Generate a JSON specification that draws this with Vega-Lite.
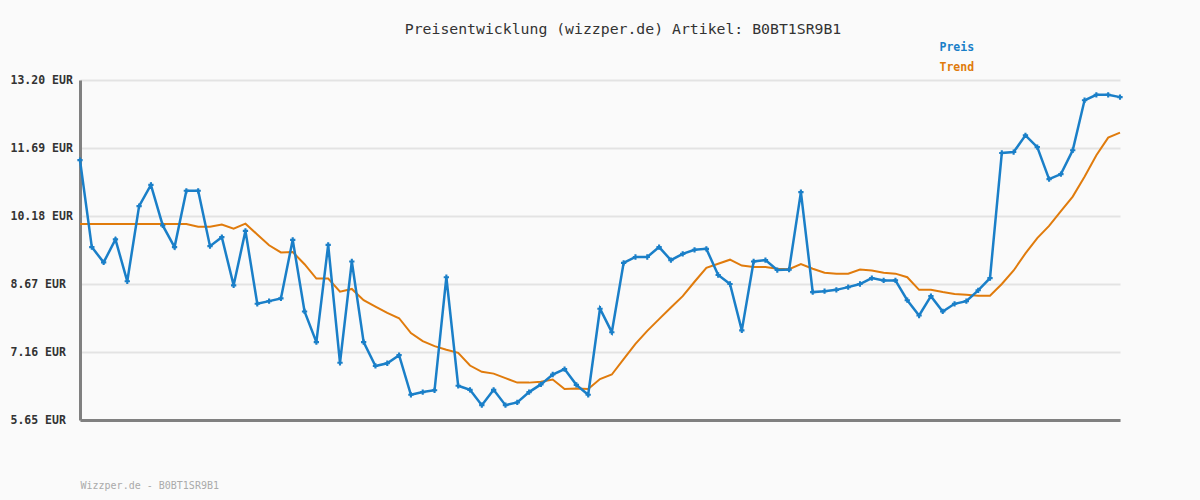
{
  "$schema": "https://vega.github.io/schema/vega-lite/v6.json",
  "width": 1040,
  "height": 340,
  "autosize": {"type": "none"},
  "padding": {"left": 80, "top": 80, "right": 80, "bottom": 80},
  "background": "#fafafa",
  "title": {
    "text": "Preisentwicklung (wizzper.de) Artikel: B0BT1SR9B1",
    "font": "DejaVu Sans Mono",
    "fontSize": 14.8,
    "fontWeight": "normal",
    "color": "#333333",
    "anchor": "middle",
    "dx": 23,
    "offset": 5
  },
  "config": {
    "view": {"stroke": null},
    "axis": {"labelFont": "DejaVu Sans Mono", "titleFont": "DejaVu Sans Mono"}
  },
  "data": {
    "values": [
      {"i":0,"Preis":11.42,"Trend":10.00},
      {"i":1,"Preis":9.49,"Trend":10.00},
      {"i":2,"Preis":9.15,"Trend":10.00},
      {"i":3,"Preis":9.66,"Trend":10.00},
      {"i":4,"Preis":8.73,"Trend":10.00},
      {"i":5,"Preis":10.40,"Trend":10.00},
      {"i":6,"Preis":10.87,"Trend":10.00},
      {"i":7,"Preis":9.97,"Trend":10.00},
      {"i":8,"Preis":9.49,"Trend":10.00},
      {"i":9,"Preis":10.74,"Trend":10.00},
      {"i":10,"Preis":10.74,"Trend":9.94},
      {"i":11,"Preis":9.51,"Trend":9.94},
      {"i":12,"Preis":9.71,"Trend":9.99},
      {"i":13,"Preis":8.64,"Trend":9.90},
      {"i":14,"Preis":9.85,"Trend":10.01},
      {"i":15,"Preis":8.23,"Trend":9.77},
      {"i":16,"Preis":8.29,"Trend":9.53},
      {"i":17,"Preis":8.35,"Trend":9.37},
      {"i":18,"Preis":9.65,"Trend":9.38},
      {"i":19,"Preis":8.06,"Trend":9.11},
      {"i":20,"Preis":7.38,"Trend":8.79},
      {"i":21,"Preis":9.54,"Trend":8.79},
      {"i":22,"Preis":6.92,"Trend":8.50},
      {"i":23,"Preis":9.17,"Trend":8.56},
      {"i":24,"Preis":7.38,"Trend":8.31},
      {"i":25,"Preis":6.85,"Trend":8.17},
      {"i":26,"Preis":6.91,"Trend":8.03},
      {"i":27,"Preis":7.09,"Trend":7.91},
      {"i":28,"Preis":6.21,"Trend":7.58},
      {"i":29,"Preis":6.27,"Trend":7.40},
      {"i":30,"Preis":6.31,"Trend":7.29},
      {"i":31,"Preis":8.82,"Trend":7.21},
      {"i":32,"Preis":6.41,"Trend":7.14},
      {"i":33,"Preis":6.32,"Trend":6.86},
      {"i":34,"Preis":5.98,"Trend":6.72},
      {"i":35,"Preis":6.32,"Trend":6.68},
      {"i":36,"Preis":5.98,"Trend":6.58},
      {"i":37,"Preis":6.04,"Trend":6.48},
      {"i":38,"Preis":6.27,"Trend":6.48},
      {"i":39,"Preis":6.44,"Trend":6.50},
      {"i":40,"Preis":6.66,"Trend":6.55},
      {"i":41,"Preis":6.78,"Trend":6.34},
      {"i":42,"Preis":6.43,"Trend":6.35},
      {"i":43,"Preis":6.21,"Trend":6.34},
      {"i":44,"Preis":8.12,"Trend":6.56},
      {"i":45,"Preis":7.60,"Trend":6.66},
      {"i":46,"Preis":9.14,"Trend":7.00},
      {"i":47,"Preis":9.27,"Trend":7.34},
      {"i":48,"Preis":9.27,"Trend":7.63},
      {"i":49,"Preis":9.49,"Trend":7.89},
      {"i":50,"Preis":9.20,"Trend":8.15},
      {"i":51,"Preis":9.34,"Trend":8.40},
      {"i":52,"Preis":9.43,"Trend":8.72},
      {"i":53,"Preis":9.45,"Trend":9.03},
      {"i":54,"Preis":8.87,"Trend":9.12},
      {"i":55,"Preis":8.67,"Trend":9.21},
      {"i":56,"Preis":7.64,"Trend":9.08},
      {"i":57,"Preis":9.17,"Trend":9.05},
      {"i":58,"Preis":9.20,"Trend":9.05},
      {"i":59,"Preis":8.98,"Trend":9.01},
      {"i":60,"Preis":8.99,"Trend":9.00},
      {"i":61,"Preis":10.71,"Trend":9.11},
      {"i":62,"Preis":8.49,"Trend":9.01},
      {"i":63,"Preis":8.51,"Trend":8.92},
      {"i":64,"Preis":8.54,"Trend":8.90},
      {"i":65,"Preis":8.60,"Trend":8.90},
      {"i":66,"Preis":8.67,"Trend":8.99},
      {"i":67,"Preis":8.80,"Trend":8.97},
      {"i":68,"Preis":8.75,"Trend":8.92},
      {"i":69,"Preis":8.75,"Trend":8.90},
      {"i":70,"Preis":8.31,"Trend":8.82},
      {"i":71,"Preis":7.97,"Trend":8.54},
      {"i":72,"Preis":8.40,"Trend":8.54},
      {"i":73,"Preis":8.06,"Trend":8.49},
      {"i":74,"Preis":8.23,"Trend":8.45},
      {"i":75,"Preis":8.29,"Trend":8.43},
      {"i":76,"Preis":8.53,"Trend":8.41},
      {"i":77,"Preis":8.80,"Trend":8.41},
      {"i":78,"Preis":11.58,"Trend":8.67},
      {"i":79,"Preis":11.60,"Trend":8.97},
      {"i":80,"Preis":11.97,"Trend":9.35},
      {"i":81,"Preis":11.71,"Trend":9.69},
      {"i":82,"Preis":11.00,"Trend":9.96},
      {"i":83,"Preis":11.11,"Trend":10.29},
      {"i":84,"Preis":11.64,"Trend":10.61},
      {"i":85,"Preis":12.75,"Trend":11.05},
      {"i":86,"Preis":12.87,"Trend":11.53},
      {"i":87,"Preis":12.87,"Trend":11.92},
      {"i":88,"Preis":12.82,"Trend":12.03}
    ]
  },
  "transform": [{"fold": ["Preis", "Trend"], "as": ["Serie", "Wert"]}],
  "encoding": {
    "x": {
      "field": "i",
      "type": "quantitative",
      "scale": {"domain": [0, 88], "nice": false, "zero": false},
      "axis": {
        "labels": false,
        "ticks": false,
        "grid": false,
        "domainColor": "#808080",
        "domainWidth": 3,
        "title": "Wizzper.de - B0BT1SR9B1",
        "titleAnchor": "start",
        "titleAlign": "left",
        "titleFont": "DejaVu Sans Mono",
        "titleFontSize": 10,
        "titleFontWeight": "normal",
        "titleColor": "#aaaaaa",
        "titlePadding": 60
      }
    },
    "y": {
      "field": "Wert",
      "type": "quantitative",
      "scale": {"domain": [5.65, 13.2], "nice": false, "zero": false},
      "axis": {
        "values": [5.65, 7.16, 8.67, 10.18, 11.69, 13.2],
        "labelExpr": "format(datum.value, '.2f') + ' EUR'",
        "labelAlign": "left",
        "labelPadding": 70,
        "labelFontSize": 11.5,
        "labelFontWeight": "bold",
        "labelColor": "#333333",
        "ticks": false,
        "domainColor": "#808080",
        "domainWidth": 3,
        "gridColor": "#e3e3e3",
        "gridWidth": 2,
        "title": null
      }
    },
    "color": {
      "field": "Serie",
      "type": "nominal",
      "scale": {"domain": ["Preis", "Trend"], "range": ["#1a7fc8", "#e07b0c"]},
      "legend": {
        "title": null,
        "orient": "none",
        "legendX": 848,
        "legendY": -38,
        "symbolSize": 0,
        "symbolOpacity": 0,
        "symbolStrokeWidth": 0,
        "labelOffset": 0,
        "labelFont": "DejaVu Sans Mono",
        "labelFontSize": 11.5,
        "labelFontWeight": "bold",
        "rowPadding": 7,
        "encode": {
          "labels": {
            "update": {
              "fill": {"signal": "datum.value === 'Preis' ? '#1a7fc8' : '#e07b0c'"}
            }
          }
        }
      }
    }
  },
  "layer": [
    {
      "transform": [{"filter": "datum.Serie === 'Trend'"}],
      "mark": {"type": "line", "strokeWidth": 2}
    },
    {
      "transform": [{"filter": "datum.Serie === 'Preis'"}],
      "mark": {"type": "line", "strokeWidth": 2.5}
    },
    {
      "transform": [{"filter": "datum.Serie === 'Preis'"}],
      "mark": {"type": "point", "shape": "cross", "filled": true, "size": 28, "opacity": 1}
    }
  ]
}
